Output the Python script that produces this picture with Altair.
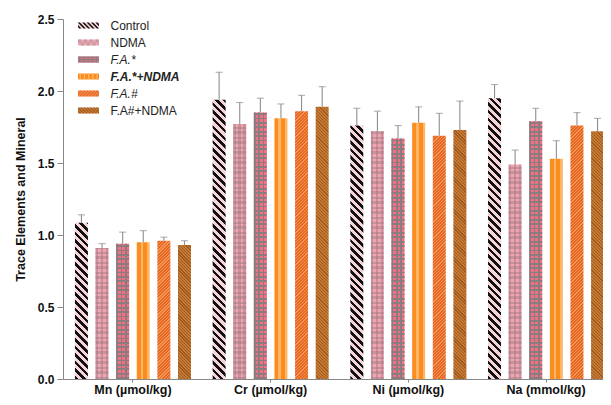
import altair as alt

# ---------------- data ----------------
groups = ["Mn (µmol/kg)", "Cr (µmol/kg)", "Ni (µmol/kg)", "Na (mmol/kg)"]
series = ["Control", "NDMA", "F.A.*", "F.A.*+NDMA", "F.A.#", "F.A#+NDMA"]

control = [1.085, 1.94, 1.76, 1.95]
control_err = [0.055, 0.19, 0.12, 0.095]
ndma = [0.91, 1.77, 1.72, 1.49]
ndma_err = [0.03, 0.15, 0.14, 0.10]
fa_star = [0.94, 1.85, 1.67, 1.79]
fa_star_err = [0.08, 0.10, 0.09, 0.09]
fa_star_ndma = [0.95, 1.81, 1.78, 1.53]
fa_star_ndma_err = [0.08, 0.10, 0.11, 0.125]
fa_hash = [0.96, 1.86, 1.69, 1.76]
fa_hash_err = [0.025, 0.11, 0.155, 0.09]
fa_hash_ndma = [0.93, 1.89, 1.73, 1.72]
fa_hash_ndma_err = [0.03, 0.14, 0.20, 0.09]

y_ticks = [0.0, 0.5, 1.0, 1.5, 2.0, 2.5]

means = [control, ndma, fa_star, fa_star_ndma, fa_hash, fa_hash_ndma]
errs = [control_err, ndma_err, fa_star_err, fa_star_ndma_err, fa_hash_err, fa_hash_ndma_err]

# ---------------- styling ----------------
FONT = "Liberation Sans"
PLOT_W, PLOT_H, Y_MAX = 540, 360, 2.5
X_RANGE = 553          # the x scale runs a little past the visible plot (cropped, as in the reference)
X_PI, X_PO = 0.12, 0.068
O_PI, O_PO = 0.37, 0.125

bg_colors = ["#f7d3da", "#f0a3b0", "#f56f82", "#fb8c1e", "#e5661e", "#c67a32"]
fg_colors = ["#111111", "#c29ea4", "#8b7d7f", "#ffb566", "#f5955a", "#9e5a22"]

step = X_RANGE / (len(groups) - X_PI + 2 * X_PO)
band = step * (1 - X_PI)
ostep = band / (len(series) - O_PI + 2 * O_PO)
BW = ostep * (1 - O_PI)
L = 420.0


def band_stops(fg, bg, period, frac, length):
    pts = []
    pos = 0.0
    while pos < length:
        a = pos
        b = min(pos + frac * period, length)
        c = min(pos + period, length)
        pts += [(a, fg), (b, fg)]
        if c > b:
            pts += [(b, bg), (c, bg)]
        pos += period
    return [{"offset": round(p / length, 5), "color": col} for p, col in pts]


def diag_grad(h, fg, bg, period, frac, back=True):
    w = BW
    d = w * w + h * h
    if back:  # "\" stripes
        g = {"x1": 0, "y1": 1, "x2": round(L * w / d, 6), "y2": round(1 - L * h / d, 6)}
    else:  # "/" stripes
        g = {"x1": 0, "y1": 0, "x2": round(L * w / d, 6), "y2": round(L * h / d, 6)}
    g["gradient"] = "linear"
    g["stops"] = band_stops(fg, bg, period, frac, L)
    return g


def vert_grad(fg, bg, period, frac):
    return {"gradient": "linear", "x1": 0, "y1": 0, "x2": 1, "y2": 0,
            "stops": band_stops(fg, bg, period, frac, BW)}


def horiz_grad(h, fg, bg, period, frac):
    return {"gradient": "linear", "x1": 0, "y1": 1, "x2": 0, "y2": round(1 - L / h, 6),
            "stops": band_stops(fg, bg, period, frac, L)}


CLEAR = "rgba(0,0,0,0)"


def fills(si, value):
    h = value * PLOT_H / Y_MAX
    if si == 0:
        return diag_grad(h, fg_colors[0], bg_colors[0], 7.6, 0.46), None, None
    if si == 1:
        c = "rgba(150,120,126,0.42)"
        return bg_colors[1], vert_grad(c, CLEAR, 5.0, 0.5), horiz_grad(h, c, CLEAR, 5.0, 0.5)
    if si == 2:
        c = fg_colors[2]
        return bg_colors[2], vert_grad(c, CLEAR, 4.4, 0.4), horiz_grad(h, c, CLEAR, 4.4, 0.4)
    if si == 3:
        return vert_grad(bg_colors[3], fg_colors[3], 6.5, 0.62), None, None
    if si == 4:
        return diag_grad(h, fg_colors[4], bg_colors[4], 3.2, 0.4, back=False), None, None
    return diag_grad(h, fg_colors[5], bg_colors[5], 3.2, 0.4, back=True), None, None


rows = []
for si, s in enumerate(series):
    for gi, g in enumerate(groups):
        v = means[si][gi]
        g1, g2, g3 = fills(si, v)
        rows.append({"group": g, "series": s, "key": str(si), "value": v,
                     "top": round(v + errs[si][gi], 4), "g1": g1, "g2": g2, "g3": g3})

# ---------------- legend symbols (paths in the [-1,1] symbol box) ----------------
HY = 0.28
RECT = f"M-1,{-HY}L1,{-HY}L1,{HY}L-1,{HY}Z"


def clip(poly, x0, x1, y0, y1):
    def cut(pts, inside, inter):
        out = []
        for i in range(len(pts)):
            p, q = pts[i - 1], pts[i]
            if inside(q):
                if not inside(p):
                    out.append(inter(p, q))
                out.append(q)
            elif inside(p):
                out.append(inter(p, q))
        return out

    def ix(xc):
        return lambda p, q: (xc, p[1] + (q[1] - p[1]) * (xc - p[0]) / (q[0] - p[0]))

    def iy(yc):
        return lambda p, q: (p[0] + (q[0] - p[0]) * (yc - p[1]) / (q[1] - p[1]), yc)

    pts = poly
    for inside, inter in [(lambda p: p[0] >= x0, ix(x0)), (lambda p: p[0] <= x1, ix(x1)),
                          (lambda p: p[1] >= y0, iy(y0)), (lambda p: p[1] <= y1, iy(y1))]:
        if not pts:
            break
        pts = cut(pts, inside, inter)
    return pts


def to_path(polys):
    out = ""
    for p in polys:
        if len(p) < 3:
            continue
        out += "M" + "L".join(f"{x:.3f},{y:.3f}" for x, y in p) + "Z"
    return out


def diag_path(period, width, back=True):
    polys = []
    c = -2.0
    ya, yb = -1.0, 1.0
    while c < 2.0:
        if back:
            q = [(c + ya, ya), (c + yb, yb), (c + width + yb, yb), (c + width + ya, ya)]
        else:
            q = [(c - ya, ya), (c - yb, yb), (c + width - yb, yb), (c + width - ya, ya)]
        polys.append(clip(q, -1, 1, -HY, HY))
        c += period
    return to_path(polys)


def vstripe_path(period, width, x_start):
    polys = []
    x = x_start
    while x < 1:
        polys.append(clip([(x, -HY), (x + width, -HY), (x + width, HY), (x, HY)], -1, 1, -HY, HY))
        x += period
    return to_path(polys)


def grid_path(period, width):
    p = vstripe_path(period, width, -1 + 0.1)
    polys = [clip([(-1, yy - width / 2), (1, yy - width / 2), (1, yy + width / 2), (-1, yy + width / 2)],
                  -1, 1, -HY, HY) for yy in (-HY + width / 2, 0.0, HY - width / 2)]
    return p + to_path(polys)


def checker_path(cell):
    polys = []
    i = 0
    x = -1.0
    while x < 1:
        for j, yy in enumerate((-HY, 0.0)):
            if (i + j) % 2 == 0:
                polys.append(clip([(x, yy), (x + cell, yy), (x + cell, yy + HY), (x, yy + HY)],
                                  -1, 1, -HY, HY))
        x += cell
        i += 1
    return to_path(polys)


legend_paths = [
    diag_path(0.42, 0.2, back=True),
    checker_path(0.28),
    grid_path(0.4, 0.12),
    vstripe_path(0.4, 0.13, -0.85),
    diag_path(0.3, 0.13, back=False),
    diag_path(0.3, 0.13, back=True),
]
keys = [str(i) for i in range(len(series))]

# ---------------- chart ----------------
base = alt.Chart(alt.Data(values=rows))

x_enc = alt.X("group:N", sort=groups, title=None,
              scale=alt.Scale(paddingInner=X_PI, paddingOuter=X_PO, range=[0, X_RANGE]),
              axis=alt.Axis(labelAngle=0, labelFont=FONT, labelFontSize=12.5, labelFontWeight="bold",
                            labelColor="#111", labelPadding=1, tickSize=3, tickColor="#888",
                            domainColor="#888", grid=False))
xo_enc = alt.XOffset("series:N", sort=series,
                     scale=alt.Scale(paddingInner=O_PI, paddingOuter=O_PO))
y_enc = alt.Y("value:Q", title="Trace Elements and Mineral",
              scale=alt.Scale(domain=[0, Y_MAX], nice=False),
              axis=alt.Axis(values=y_ticks, format=".1f", labelFont=FONT, labelFontSize=12,
                            labelFontWeight="bold", labelColor="#111", labelPadding=3, tickSize=6,
                            tickColor="#888", domainColor="#888", grid=False, titleFont=FONT,
                            titleFontSize=12.5, titleFontWeight="bold", titleColor="#111",
                            titlePadding=10))

bars1 = base.mark_bar(strokeWidth=0).encode(
    x=x_enc, xOffset=xo_enc, y=y_enc, fill=alt.Fill("g1:N", scale=None, legend=None))
bars2 = base.transform_filter("datum.g2 != null").mark_bar(strokeWidth=0).encode(
    x=x_enc, xOffset=xo_enc, y=y_enc, fill=alt.Fill("g2:N", scale=None, legend=None))
bars3 = base.transform_filter("datum.g3 != null").mark_bar(strokeWidth=0).encode(
    x=x_enc, xOffset=xo_enc, y=y_enc, fill=alt.Fill("g3:N", scale=None, legend=None))

err_rule = base.mark_rule(color="#8f8f8f", strokeWidth=1.1).encode(
    x=x_enc, xOffset=xo_enc, y="value:Q", y2="top:Q")
err_cap = base.mark_tick(color="#8f8f8f", thickness=1.1, size=7, orient="horizontal").encode(
    x=x_enc, xOffset=xo_enc, y="top:Q")

italic_expr = ("(datum.label == 'F.A.*' || datum.label == 'F.A.*+NDMA' || datum.label == 'F.A.#')"
               " ? 'italic' : 'normal'")
bold_expr = "datum.label == 'F.A.*+NDMA' ? 'bold' : 'normal'"

leg_common = dict(orient="none", legendX=15, legendY=-4, title=None, padding=0,
                  symbolSize=441, symbolStrokeWidth=0, rowPadding=-6.6, labelOffset=11.5,
                  labelFont=FONT, labelFontSize=12, labelLimit=0)

leg_a = base.transform_filter("false").mark_point(filled=True, opacity=1).encode(
    fill=alt.Fill("series:N", scale=alt.Scale(domain=series, range=bg_colors),
                  legend=alt.Legend(symbolType=RECT, labelColor="#222",
                                    labelFontStyle={"expr": italic_expr},
                                    labelFontWeight={"expr": bold_expr}, **leg_common)))
leg_b = base.transform_filter("false").mark_point(filled=True, opacity=1).encode(
    fill=alt.Fill("key:N", scale=alt.Scale(domain=keys, range=fg_colors),
                  legend=alt.Legend(labelExpr="''", **leg_common)),
    shape=alt.Shape("key:N", scale=alt.Scale(domain=keys, range=legend_paths),
                    legend=alt.Legend(labelExpr="''", **leg_common)))

chart = alt.layer(bars1, bars2, bars3, err_rule, err_cap, leg_a, leg_b).resolve_scale(
    fill="independent", shape="independent"
).properties(
    width=PLOT_W, height=PLOT_H,
    autosize=alt.AutoSizeParams(type="none"),
    padding={"left": 55, "top": 11, "right": 0, "bottom": 18},
).configure_view(stroke=None)

chart.save("out.html", embed_options={"renderer": "svg", "actions": False})
